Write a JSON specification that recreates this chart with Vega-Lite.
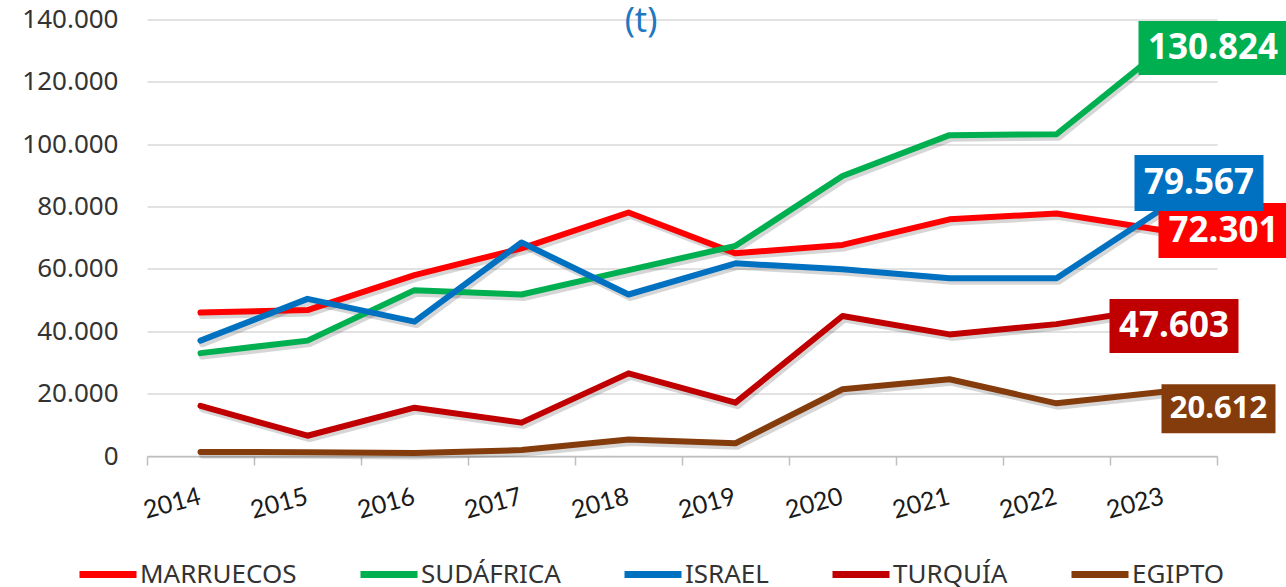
{
  "$schema": "https://vega.github.io/schema/vega-lite/v6.json",
  "width": 1070,
  "height": 436.5,
  "autosize": {"type": "none"},
  "padding": {"left": 147, "top": 19.5, "right": 69, "bottom": 131},
  "background": "white",
  "title": {"text": "(t)", "color": "#1F78C1", "fontSize": 34, "font": "Noto Sans", "fontWeight": "normal", "anchor": "middle", "baseline": "middle", "offset": 2, "dx": -41, "dy": 51},
  "config": {
    "locale": {"number": {"decimal": ",", "thousands": ".", "grouping": [3], "currency": ["", " €"]}},
    "view": {"stroke": null}
  },
  "datasets": {
    "d": [
      {"year": "2014", "pais": "MARRUECOS", "t": 46000},
      {"year": "2015", "pais": "MARRUECOS", "t": 46800},
      {"year": "2016", "pais": "MARRUECOS", "t": 58000},
      {"year": "2017", "pais": "MARRUECOS", "t": 66600},
      {"year": "2018", "pais": "MARRUECOS", "t": 78100},
      {"year": "2019", "pais": "MARRUECOS", "t": 65000},
      {"year": "2020", "pais": "MARRUECOS", "t": 67700},
      {"year": "2021", "pais": "MARRUECOS", "t": 75900},
      {"year": "2022", "pais": "MARRUECOS", "t": 77800},
      {"year": "2023", "pais": "MARRUECOS", "t": 72301},
      {"year": "2014", "pais": "SUDÁFRICA", "t": 33000},
      {"year": "2015", "pais": "SUDÁFRICA", "t": 37000},
      {"year": "2016", "pais": "SUDÁFRICA", "t": 53200},
      {"year": "2017", "pais": "SUDÁFRICA", "t": 51800},
      {"year": "2018", "pais": "SUDÁFRICA", "t": 59600},
      {"year": "2019", "pais": "SUDÁFRICA", "t": 67400},
      {"year": "2020", "pais": "SUDÁFRICA", "t": 89800},
      {"year": "2021", "pais": "SUDÁFRICA", "t": 102900},
      {"year": "2022", "pais": "SUDÁFRICA", "t": 103200},
      {"year": "2023", "pais": "SUDÁFRICA", "t": 130824},
      {"year": "2014", "pais": "ISRAEL", "t": 37000},
      {"year": "2015", "pais": "ISRAEL", "t": 50400},
      {"year": "2016", "pais": "ISRAEL", "t": 43100},
      {"year": "2017", "pais": "ISRAEL", "t": 68500},
      {"year": "2018", "pais": "ISRAEL", "t": 51800},
      {"year": "2019", "pais": "ISRAEL", "t": 61800},
      {"year": "2020", "pais": "ISRAEL", "t": 59900},
      {"year": "2021", "pais": "ISRAEL", "t": 57000},
      {"year": "2022", "pais": "ISRAEL", "t": 57000},
      {"year": "2023", "pais": "ISRAEL", "t": 79567},
      {"year": "2014", "pais": "TURQUÍA", "t": 16100},
      {"year": "2015", "pais": "TURQUÍA", "t": 6500},
      {"year": "2016", "pais": "TURQUÍA", "t": 15500},
      {"year": "2017", "pais": "TURQUÍA", "t": 10700},
      {"year": "2018", "pais": "TURQUÍA", "t": 26500},
      {"year": "2019", "pais": "TURQUÍA", "t": 17100},
      {"year": "2020", "pais": "TURQUÍA", "t": 44900},
      {"year": "2021", "pais": "TURQUÍA", "t": 39000},
      {"year": "2022", "pais": "TURQUÍA", "t": 42300},
      {"year": "2023", "pais": "TURQUÍA", "t": 47603},
      {"year": "2014", "pais": "EGIPTO", "t": 1300},
      {"year": "2015", "pais": "EGIPTO", "t": 1200},
      {"year": "2016", "pais": "EGIPTO", "t": 1000},
      {"year": "2017", "pais": "EGIPTO", "t": 1900},
      {"year": "2018", "pais": "EGIPTO", "t": 5300},
      {"year": "2019", "pais": "EGIPTO", "t": 4100},
      {"year": "2020", "pais": "EGIPTO", "t": 21400},
      {"year": "2021", "pais": "EGIPTO", "t": 24600},
      {"year": "2022", "pais": "EGIPTO", "t": 16900},
      {"year": "2023", "pais": "EGIPTO", "t": 20612}
    ]
  },
  "data": {"name": "d"},
  "encoding": {
    "x": {
      "field": "year", "type": "ordinal",
      "scale": {"type": "band", "paddingInner": 0, "paddingOuter": 0},
      "axis": {
        "title": null, "tickBand": "extent", "grid": false,
        "domainColor": "#BFBFBF", "domainWidth": 1.5,
        "tickColor": "#BFBFBF", "tickWidth": 1.5, "tickSize": 9,
        "labelAngle": -15, "labelAlign": "right", "labelBaseline": "top",
        "labelFont": "Lato", "labelFontSize": 25, "labelColor": "#1A1A1A", "labelPadding": 19, "labelOffset": -4
      }
    },
    "y": {
      "field": "t", "type": "quantitative",
      "scale": {"domain": [0, 140000], "nice": false},
      "axis": {
        "title": null, "values": [0, 20000, 40000, 60000, 80000, 100000, 120000, 140000],
        "format": ",.0f", "grid": true, "gridColor": "#D9D9D9", "gridWidth": 1.5,
        "domain": false, "ticks": false, "labelPadding": 29,
        "labelFont": "Noto Sans", "labelFontSize": 26, "labelColor": "#333333"
      }
    }
  },
  "layer": [
    {
      "mark": {"type": "line", "color": "#000000", "opacity": 0.16, "strokeWidth": 7, "xOffset": 2, "yOffset": 3, "strokeCap": "round", "strokeJoin": "round"},
      "encoding": {"detail": {"field": "pais"}}
    },
    {
      "mark": {"type": "line", "strokeWidth": 6, "strokeCap": "round", "strokeJoin": "round"},
      "encoding": {
        "color": {
          "field": "pais", "type": "nominal",
          "scale": {"domain": ["MARRUECOS", "SUDÁFRICA", "ISRAEL", "TURQUÍA", "EGIPTO"], "range": ["#FF0000", "#00B050", "#0070C0", "#C00000", "#843C0C"]},
          "legend": {
            "orient": "none", "legendX": -71, "legendY": 523, "direction": "horizontal",
            "title": null, "symbolType": "stroke", "symbolStrokeWidth": 7, "symbolSize": 3249,
            "labelFont": "Noto Sans", "labelFontSize": 26, "labelColor": "#333333",
            "columnPadding": 49, "labelOffset": 0, "padding": 0
          }
        }
      }
    },
    {
      "transform": [{"filter": "datum.year == '2023' && datum.pais == 'SUDÁFRICA'"}],
      "layer": [
        {"mark": {"type": "point", "shape": "M-1,-0.3624H1V0.3624H-1Z", "size": 22201, "filled": true, "opacity": 1, "color": "#00B050", "xOffset": 49.5, "yOffset": 0}},
        {"mark": {"type": "text", "color": "white", "font": "Noto Sans", "fontWeight": "bold", "fontSize": 35, "align": "center", "baseline": "middle", "dx": 49.5, "dy": 0}, "encoding": {"text": {"field": "t", "format": ",.0f"}}}
      ]
    },
    {
      "transform": [{"filter": "datum.year == '2023' && datum.pais == 'MARRUECOS'"}],
      "layer": [
        {"mark": {"type": "point", "shape": "M-1,-0.4231H1V0.4231H-1Z", "size": 16900, "filled": true, "opacity": 1, "color": "#FF0000", "xOffset": 60, "yOffset": 0}},
        {"mark": {"type": "text", "color": "white", "font": "Noto Sans", "fontWeight": "bold", "fontSize": 35, "align": "center", "baseline": "middle", "dx": 60, "dy": 0}, "encoding": {"text": {"field": "t", "format": ",.0f"}}}
      ]
    },
    {
      "transform": [{"filter": "datum.year == '2023' && datum.pais == 'ISRAEL'"}],
      "layer": [
        {"mark": {"type": "point", "shape": "M-1,-0.4341H1V0.4341H-1Z", "size": 16641, "filled": true, "opacity": 1, "color": "#0070C0", "xOffset": 35.5, "yOffset": -25}},
        {"mark": {"type": "text", "color": "white", "font": "Noto Sans", "fontWeight": "bold", "fontSize": 35, "align": "center", "baseline": "middle", "dx": 35.5, "dy": -25}, "encoding": {"text": {"field": "t", "format": ",.0f"}}}
      ]
    },
    {
      "transform": [{"filter": "datum.year == '2023' && datum.pais == 'TURQUÍA'"}],
      "layer": [
        {"mark": {"type": "point", "shape": "M-1,-0.4186H1V0.4186H-1Z", "size": 16641, "filled": true, "opacity": 1, "color": "#C00000", "xOffset": 10.5, "yOffset": 18.5}},
        {"mark": {"type": "text", "color": "white", "font": "Noto Sans", "fontWeight": "bold", "fontSize": 35, "align": "center", "baseline": "middle", "dx": 10.5, "dy": 18.5}, "encoding": {"text": {"field": "t", "format": ",.0f"}}}
      ]
    },
    {
      "transform": [{"filter": "datum.year == '2023' && datum.pais == 'EGIPTO'"}],
      "layer": [
        {"mark": {"type": "point", "shape": "M-1,-0.4298H1V0.4298H-1Z", "size": 12996, "filled": true, "opacity": 1, "color": "#843C0C", "xOffset": 55, "yOffset": 17}},
        {"mark": {"type": "text", "color": "white", "font": "Noto Sans", "fontWeight": "bold", "fontSize": 31, "align": "center", "baseline": "middle", "dx": 55, "dy": 17}, "encoding": {"text": {"field": "t", "format": ",.0f"}}}
      ]
    }
  ]
}
